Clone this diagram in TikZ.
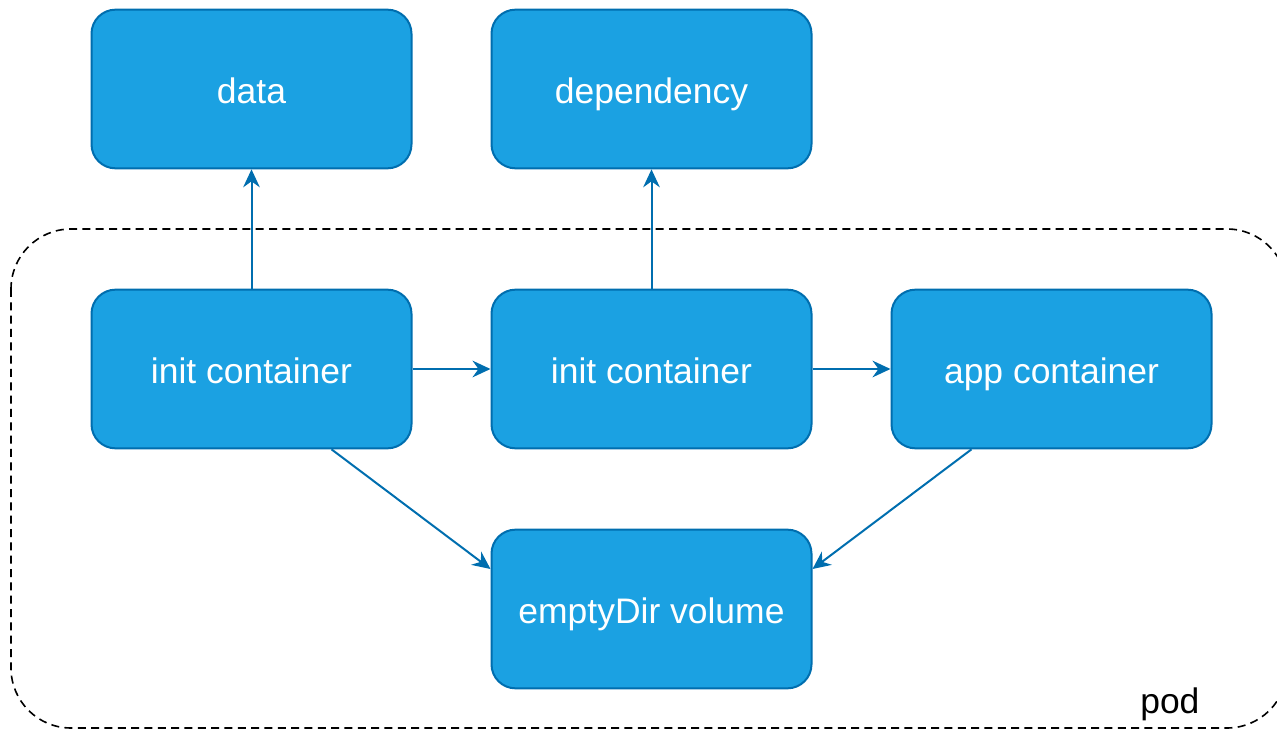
\documentclass[tikz,border=0pt]{standalone}
\usepackage{fontspec}
\setmainfont{Liberation Sans}
\usetikzlibrary{arrows.meta,calc}
\definecolor{boxfill}{HTML}{1BA1E2}
\definecolor{boxline}{HTML}{006EAF}
\begin{document}
\begin{tikzpicture}[x=0.75pt,y=-0.75pt,
  label font/.style={font=\fontsize{26.6}{30}\selectfont},
  box/.style={draw=boxline, fill=boxfill, line width=1.5pt, rounded corners=18pt,
    minimum width=240pt, minimum height=119pt, inner sep=0pt,
    text height=22pt, text depth=0pt,
    text=white, label font},
  link/.style={draw=boxline, line width=1.5pt,
    -{Stealth[length=13.5pt,width=12.5pt,inset=4.5pt]}},
  podframe/.style={draw=black, line width=1.2pt, dash pattern=on 6pt off 4pt, rounded corners=45pt}]
  \useasboundingbox (0,0) rectangle (1277,730);
  % pod boundary, running past the right edge
  \begin{scope}
    \clip (0,0) rectangle (1277,730);
    \draw[podframe] (11,229) rectangle (1287,728);
  \end{scope}
  \node[anchor=base west, inner sep=0pt, label font] (podlabel) at (1140,713) {pod};

  \node[box] (data) at (251.5,89) {data};
  \node[box] (dep) at (651.5,89) {dependency};
  \node[box] (initA) at (251.5,369) {init container};
  \node[box] (initB) at (651.5,369) {init container};
  \node[box] (app) at (1051.5,369) {app container};
  \node[box] (vol) at (651.5,609) {emptyDir volume};

  \draw[link] (initA.north) -- (data.south);
  \draw[link] (initB.north) -- (dep.south);
  \draw[link] (initA.east) -- (initB.west);
  \draw[link] (initB.east) -- (app.west);
  \draw[link] ($(initA.south)+(80,0)$) -- ($(vol.west)+(0,-40)$);
  \draw[link] ($(app.south)+(-80,0)$) -- ($(vol.east)+(0,-40)$);
\end{tikzpicture}
\end{document}
